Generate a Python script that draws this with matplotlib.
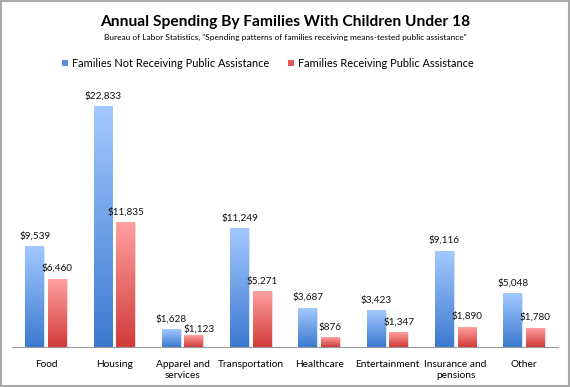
import numpy as np
import matplotlib
matplotlib.use("Agg")
from matplotlib import pyplot as plt
from matplotlib.colors import LinearSegmentedColormap

#%% data
categories = ["Food", "Housing", "Apparel and\nservices", "Transportation",
              "Healthcare", "Entertainment", "Insurance and\npensions", "Other"]
not_receiving = [9539, 22833, 1628, 11249, 3687, 3423, 9116, 5048]
receiving = [6460, 11835, 1123, 5271, 876, 1347, 1890, 1780]
series_names = ["Families Not Receiving Public Assistance",
                "Families Receiving Public Assistance"]

plt.rcParams['font.family'] = ['Lato', 'DejaVu Sans']

fig = plt.figure(figsize=(5.7, 3.87), dpi=100)
ax = fig.add_axes([0.021, 0.103, 0.958, 0.665])

x = np.arange(len(categories))
w = 0.275
gap = 0.055

blue_cm = LinearSegmentedColormap.from_list("b", ["#3c7ad0", "#a3c8ff"])
red_cm = LinearSegmentedColormap.from_list("r", ["#d13c3a", "#ff9f9f"])

def gradient_bars(bars, cmap):
    grad = np.linspace(0, 1, 100).reshape(-1, 1)
    for b in bars:
        x0, y0 = b.get_x(), b.get_y()
        ax.imshow(grad, extent=(x0, x0 + b.get_width(), y0, y0 + b.get_height()),
                  origin="lower", aspect="auto", cmap=cmap, zorder=2)

b1 = ax.bar(x - w/2 - gap/2, not_receiving, w, color="#6fa0e8", edgecolor="#dde8f8",
            linewidth=0.6, zorder=1)
b2 = ax.bar(x + w/2 + gap/2, receiving, w, color="#e86a6a", edgecolor="#f8dddd",
            linewidth=0.6, zorder=1)
gradient_bars(b1, blue_cm)
gradient_bars(b2, red_cm)

# excel nudged the crowded apparel label aside, do the same (offsets in points)
nudge = {(1, 2): (4, -3)}

for s, (bars, vals) in enumerate([(b1, not_receiving), (b2, receiving)]):
    for i, (b, v) in enumerate(zip(bars, vals)):
        dx, dy = nudge.get((s, i), (0, 0))
        ax.annotate("${:,}".format(v), (b.get_x() + b.get_width()/2, v),
                    xytext=(dx, 4.5 + dy), textcoords="offset points",
                    ha="center", va="bottom", fontsize=7.2, color="#111111")

ax.set_xlim(-0.5, len(categories) - 0.5)
ax.set_ylim(0, 24450)
ax.set_xticks(x)
ax.set_xticklabels(categories, fontsize=7.3, linespacing=1.3)
ax.tick_params(axis="x", length=0, pad=9)
ax.set_yticks([])
for s in ["top", "right", "left"]:
    ax.spines[s].set_visible(False)
ax.spines["bottom"].set_color("#999999")
ax.spines["bottom"].set_linewidth(0.8)

fig.text(0.5, 0.942, "Annual Spending By Families With Children Under 18",
         ha="center", va="center", fontsize=11.2, fontweight="bold")
fig.text(0.5, 0.902, 'Bureau of Labor Statistics, "Spending patterns of families receiving means-tested public assistance"',
         ha="center", va="center", fontsize=6.05)

# legend
fig.patches.append(plt.Rectangle((0.109, 0.829), 0.0105, 0.0155, transform=fig.transFigure,
                                 facecolor="#5a8fe0", edgecolor="none"))
fig.text(0.126, 0.837, series_names[0], ha="left", va="center", fontsize=7.9)
fig.patches.append(plt.Rectangle((0.506, 0.829), 0.0105, 0.0155, transform=fig.transFigure,
                                 facecolor="#e05a5a", edgecolor="none"))
fig.text(0.522, 0.837, series_names[1], ha="left", va="center", fontsize=7.9)

# gray frame around the whole picture
fig.patches.append(plt.Rectangle((0.002, 0.003), 0.996, 0.994, transform=fig.transFigure,
                                 facecolor="none", edgecolor="#aaaaaa", linewidth=1.5))

fig.savefig("out.png", dpi=100)
